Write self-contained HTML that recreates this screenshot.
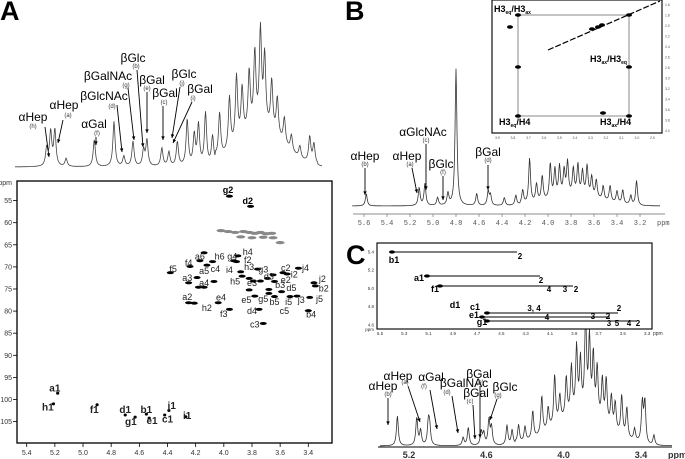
<!DOCTYPE html>
<html><head><meta charset="utf-8">
<style>
html,body{margin:0;padding:0;background:#fff;}
svg{display:block;font-family:"Liberation Sans",sans-serif;}
</style></head>
<body>
<svg id="fig" width="685" height="459" viewBox="0 0 685 459" xmlns="http://www.w3.org/2000/svg">
<text x="0" y="20" font-size="27" font-weight="bold">A</text>
<text x="345" y="20" font-size="27" font-weight="bold">B</text>
<text x="346" y="264" font-size="27" font-weight="bold">C</text>
<g id="gA"></g>
<g id="gB"></g>
<g id="gC"></g>
</svg>
<script>
// ---------- DATA ----------
const specAppm = [5.258,5.23,5.20,5.12,4.92,4.78,4.71,4.645,4.57,4.546,4.44,4.39,4.33,4.26,4.21,4.18,4.13,4.08,4.03,3.96,3.91,3.87,3.82,3.78,3.74,3.71,3.66,3.62,3.57,3.52,3.46,3.39,3.36];
const specAh   = [18,34,36,8,27,45,10,25,16,26,18,14,24,46,30,40,52,28,44,52,66,48,58,74,95,70,50,38,26,16,12,26,20];
const hsqcH = [5.18,5.21,4.90,4.70,4.63,4.55,4.53,4.42,4.39,4.27,3.96,3.81,4.14,4.17,4.08,4.12,4.24,4.38,4.19,4.25,4.18,4.14,4.07,4.25,4.21,4.04,3.96,3.90,3.93,3.91,3.88,3.87,3.82,3.79,3.74,3.69,3.65,3.64,3.58,3.55,3.47,3.68,3.68,3.64,3.59,3.53,3.48,3.39,3.75,3.78,3.72,3.36,3.35,3.40,3.76,3.82];
const hsqcC = [98.6,101,101.2,103.5,104,103.3,104.2,103.5,102.5,103.9,54,56.3,66.8,68.6,68.8,69.6,69.9,71.3,72.4,73.6,74.6,74.6,73.3,78.1,78.2,78.1,79.6,67.5,68.6,68.8,71.1,72.1,72.6,73.2,73.2,72.6,71.8,73.3,71.3,71.6,70.3,75.1,76.0,76.7,75.6,76.7,76.6,76.9,79.6,76.6,82.8,73.6,74.3,79.9,70.5,75.2];
const greyH = [4.02,3.97,3.92,3.86,3.82,3.78,3.74,3.70,3.66,3.88,3.80,3.72,3.65,3.60];
const greyC = [61.8,62,62.2,62,62.2,62.4,62.2,62.5,62.4,63.2,63.4,63.3,63.4,64.5];
const hsqcLabels = ["a6","h6","g4","h4","f2","f4","c4","a5","i4","h3","g3","c2","j4","f5","d3","i2","e2","a3","a4","h5","e3","b3","d5","j2","b2","a2","e4","h2","e5","g5","b5","i5","j3","j5","c5","f3","d4","b4","c3","a1","h1","f1","d1","b1","g1","e1","c1","j1","i1"];
const labH = [4.17,4.03,3.94,3.83,3.83,4.25,4.06,4.14,3.96,3.82,3.72,3.56,3.42,4.36,3.68,3.50,3.56,4.26,4.14,3.92,3.80,3.60,3.52,3.30,3.29,4.26,4.02,4.12,3.84,3.72,3.64,3.54,3.45,3.32,3.57,4.00,3.80,3.38,3.78,5.20,5.25,4.92,4.70,4.55,4.66,4.51,4.40,4.37,4.26];
const labC = [68.3,68.3,68.3,67.3,69.1,69.8,71.1,71.6,71.4,70.7,71.3,70.9,70.9,71.1,72.9,72.4,73.6,73.2,74.3,74.0,74.3,74.8,75.4,73.4,75.6,77.5,77.6,80.0,78.2,77.9,78.6,78.6,78.2,77.9,80.6,81.3,80.6,81.4,83.7,98.2,102.5,103.0,103.0,103.0,105.8,105.5,105.2,102.2,104.4];
const hsqcXTicks = [5.4,5.2,5.0,4.8,4.6,4.4,4.2,4.0,3.8,3.6,3.4];
const hsqcYTicks = [55,60,65,70,75,80,85,90,95,100,105];
const specBppm = [5.58,5.12,5.07,4.96,4.87,4.80,4.62,4.52,4.50,4.38,4.28,4.22,4.16,4.10,4.05,3.98,3.94,3.90,3.86,3.83,3.78,3.74,3.70,3.66,3.62,3.58,3.52,3.46,3.40,3.35,3.28,3.23];
const specBh   = [12,18,22,8,12,137,12,14,10,8,10,14,45,18,25,35,28,30,25,33,26,30,24,30,20,18,14,16,12,14,10,25];
const specBTicks = [5.6,5.4,5.2,5.0,4.8,4.6,4.4,4.2,4.0,3.8,3.6,3.4,3.2];
const specCppm = [5.29,5.14,5.11,5.05,5.04,4.78,4.74,4.64,4.62,4.58,4.56,4.44,4.40,4.35,4.30,4.24,4.17,4.12,4.07,4.03,3.98,3.94,3.90,3.87,3.83,3.80,3.77,3.74,3.70,3.67,3.63,3.60,3.55,3.51,3.45,3.39,3.37,3.30];
const specCh   = [30,28,15,22,18,8,18,14,12,25,18,20,15,18,15,28,38,22,50,26,40,48,66,52,95,75,60,50,42,45,32,28,40,30,12,40,42,10];
const specCTicks = [5.2,4.6,4.0,3.4];
const insetCTicks = [5.5,5.3,5.1,4.9,4.7,4.5,4.3,4.1,3.9,3.7,3.5,3.3];
const insetCYTicks = [5.4,5.2,5.0,4.8,4.6];

// ---------- HELPERS ----------
const NS="http://www.w3.org/2000/svg";
function mk(parent,tag,attrs,txt){const e=document.createElementNS(NS,tag);for(const k in attrs)e.setAttribute(k,attrs[k]);if(txt!==undefined)e.textContent=txt;parent.appendChild(e);return e;}
function spectrumPath(xf,x0,x1,base,ppms,hs,w,hump){let d="";for(let x=x0;x<=x1;x+=0.5){let y=0;for(let i=0;i<ppms.length;i++){const dx=(x-xf(ppms[i]))/w;y+=hs[i]/(1+dx*dx);}if(hump)y+=hump(x);d+=(d?"L":"M")+x.toFixed(1)+","+(base-y).toFixed(1);}return d;}
function annot(g,name,label,sub,tx,ty,sx,sy,ax1,ay1,ax2,ay2,fs){
  const t=mk(g,"text",{x:tx,y:ty,"font-size":fs,"text-anchor":"middle"},label);
  
  
  const s=mk(g,"text",{x:sx,y:sy,"font-size":6,"text-anchor":"middle",fill:"#333"},sub);
  
  
  const l=mk(g,"line",{x1:ax1,y1:ay1,x2:ax2,y2:ay2,stroke:"#000","stroke-width":0.9});
  
  
  const ang=Math.atan2(ay2-ay1,ax2-ax1);const a=4;
  const p=mk(g,"polygon",{points:`${ax2},${ay2} ${ax2-a*Math.cos(ang-0.45)},${ay2-a*Math.sin(ang-0.45)} ${ax2-a*Math.cos(ang+0.45)},${ay2-a*Math.sin(ang+0.45)}`,fill:"#000"});
  
  
}

// ---------- PANEL A ----------
const gA=document.getElementById("gA");
const axA=ppm=>26.7+(5.4-ppm)*140.8;
const ayA=c=>222.7+(c-60)*4.42;
const pA=mk(gA,"path",{d:spectrumPath(axA,15,322,167,specAppm,specAh,1.3,x=>x>215&&x<318?38*Math.exp(-Math.pow((x-260)/32,2)):0),fill:"none",stroke:"#444","stroke-width":0.8});


const fsA=12;
annot(gA,"ahep-h","αHep","(h)",33,121,33,128,45,127,49,157,fsA);
annot(gA,"ahep-a","αHep","(a)",64,109,68,117,63,120,58,143,fsA);
annot(gA,"agal-f","αGal","(f)",94,128,97,135,96,137,96,145,fsA);
annot(gA,"bglcnac-d","βGlcNAc","(d)",104,100,112,108,117,105,122,152,fsA);
annot(gA,"bgalnac-g","βGalNAc","(g)",108,80,126,87,128,88,134,140,fsA);
annot(gA,"bglc-b","βGlc","(b)",133,62,136,68,137,70,143,147,fsA);
annot(gA,"bgal-e","βGal","(e)",152,84,147,90,147,92,147,133,fsA);
annot(gA,"bgal-c","βGal","(c)",165,97,164,104,163,106,163,140,fsA);
annot(gA,"bglc-j","βGlc","(j)",184,78,182,85,180,87,172,138,fsA);
annot(gA,"bgal-i","βGal","(i)",200,93,193,100,192,102,173,143,fsA);
const boxA=mk(gA,"rect",{x:17,y:181,width:315,height:262,fill:"none",stroke:"#111","stroke-width":1.4});


hsqcXTicks.forEach(t=>{const x=axA(t);
  const l=mk(gA,"line",{x1:x,y1:443,x2:x,y2:447,stroke:"#000","stroke-width":0.8});
  
  
  const tx=mk(gA,"text",{x:x,y:455,"font-size":7,"text-anchor":"middle",fill:"#333"},t.toFixed(1));
  
  });
hsqcYTicks.forEach(t=>{const y=ayA(t);
  const l=mk(gA,"line",{x1:13,y1:y,x2:17,y2:y,stroke:"#000","stroke-width":0.8});
  
  
  const tx=mk(gA,"text",{x:12,y:y+2.5,"font-size":7,"text-anchor":"end",fill:"#333"},String(t));
  
  });
const ppmA=mk(gA,"text",{x:12,y:185,"font-size":7,"text-anchor":"end",fill:"#333"},"ppm");


greyH.forEach((h,i)=>{const e=mk(gA,"ellipse",{cx:axA(h),cy:ayA(greyC[i]),rx:4.5,ry:1.6,fill:"#888"});
  
  });
hsqcH.forEach((h,i)=>{const e=mk(gA,"ellipse",{cx:axA(h),cy:ayA(hsqcC[i]),rx:i<10?1.6:3.5,ry:1.5,fill:"#000"});
  
  });
hsqcLabels.forEach((s,i)=>{const big=i>=39;const t=mk(gA,"text",{x:axA(labH[i]),y:ayA(labC[i]),"font-size":big?10:9,"font-weight":big?"bold":"normal","text-anchor":"middle",fill:"#222"},s);
  
  });
const g2=mk(gA,"text",{x:axA(3.97),y:ayA(53.3),"font-size":9,"font-weight":"bold","text-anchor":"middle"},"g2");


const d2=mk(gA,"text",{x:axA(3.83),y:ayA(55.8),"font-size":9,"font-weight":"bold","text-anchor":"middle"},"d2");



// ---------- PANEL B ----------
const gB=document.getElementById("gB");
const axB=ppm=>364+(5.6-ppm)*115;
const pB=mk(gB,"path",{d:spectrumPath(axB,352,660,206,specBppm,specBh,1.1,x=>x>520&&x<630?10*Math.exp(-Math.pow((x-575)/35,2)):0),fill:"none",stroke:"#333","stroke-width":0.8});


const axLB=mk(gB,"line",{x1:353,y1:214,x2:665,y2:214,stroke:"#666","stroke-width":0.8});


specBTicks.forEach(t=>{const x=axB(t);
  const l=mk(gB,"line",{x1:x,y1:214,x2:x,y2:217,stroke:"#666","stroke-width":0.6});
  
  
  const tx=mk(gB,"text",{x:x,y:225,"font-size":7,"text-anchor":"middle",fill:"#555","font-family":"Liberation Mono"},t.toFixed(1));
  
  });
const bppm=mk(gB,"text",{x:657,y:225,"font-size":7,fill:"#555","font-family":"Liberation Mono"},"ppm");


annot(gB,"b-ahep-b","αHep","(b)",365,160,365,166,365,168,365,195,12);
annot(gB,"b-ahep-a","αHep","(a)",407,160,410,166,412,168,417,193,12);
annot(gB,"b-aglcnac-c","αGlcNAc","(c)",423,136,426,142,426,144,426,190,12);
annot(gB,"b-bglc-f","βGlc","(f)",441,168,443,174,443,176,443,200,12);
annot(gB,"b-bgal-d","βGal","(d)",488,156,488,162,488,165,488,190,12);
const inB=mk(gB,"rect",{x:492,y:0,width:170,height:133,fill:"#fff",stroke:"#111","stroke-width":1.2});


const rB=mk(gB,"rect",{x:518,y:15,width:111,height:101,fill:"none",stroke:"#888","stroke-width":1});


const dB=mk(gB,"line",{x1:548,y1:50,x2:660,y2:1,stroke:"#000","stroke-width":1.2,"stroke-dasharray":"6,2"});


[[518,15],[629,15],[518,67],[629,67],[518,116],[629,116],[598,27],[592,29],[602,25],[510,27],[603,113]].forEach(p=>{const e=mk(gB,"ellipse",{cx:p[0],cy:p[1],rx:3,ry:1.8,fill:"#000"});
  
  });
function subLabel(g,name,x,y,a,s1,b,s2){const t=mk(g,"text",{x:x,y:y,"font-size":9,"font-weight":"bold"});
  
  
  mk(t,"tspan",{},a);mk(t,"tspan",{"font-size":5,dy:2},s1);mk(t,"tspan",{dy:-2},b);if(s2)mk(t,"tspan",{"font-size":5,dy:2},s2);}
subLabel(gB,"label-h3eq-h3ax",494,12,"H3","eq","/H3","ax");
subLabel(gB,"label-h3ax-h3eq",590,62,"H3","ax","/H3","eq");
subLabel(gB,"label-h3eq-h4",499,125,"H3","eq","/H4","");
subLabel(gB,"label-h3ax-h4",600,125,"H3","ax","/H4","");
for(let i=0;i<11;i++){const x=495+i*15.5;const tx=mk(gB,"text",{x:x,y:139,"font-size":3.5,fill:"#555"},(3.9-i*0.1).toFixed(1));
  
  }
for(let i=0;i<13;i++){const y=6+i*10.5;const tx=mk(gB,"text",{x:665,y:y,"font-size":3.5,fill:"#555"},(1.6+i*0.2).toFixed(1));
  
  }

// ---------- PANEL C ----------
const gC=document.getElementById("gC");
const axC=ppm=>409+(5.2-ppm)*128.9;
const pC=mk(gC,"path",{d:spectrumPath(axC,380,672,446,specCppm,specCh,1.1,x=>x>515&&x<645?30*Math.exp(-Math.pow((x-580)/38,2)):0),fill:"none",stroke:"#333","stroke-width":0.8});


const axLC=mk(gC,"line",{x1:378,y1:447,x2:672,y2:447,stroke:"#000","stroke-width":1});


specCTicks.forEach(t=>{const x=axC(t);
  const tx=mk(gC,"text",{x:x,y:458,"font-size":9,"font-weight":"bold","text-anchor":"middle",fill:"#333"},t.toFixed(1));
  
  });
const cppm=mk(gC,"text",{x:668,y:458,"font-size":9,"font-weight":"bold",fill:"#333"},"ppm");


annot(gC,"c-ahep-b","αHep","(b)",383,390,388,396,388,398,388,425,12);
annot(gC,"c-ahep-a","αHep","(a)",398,380,405,384,408,386,420,422,12);
annot(gC,"c-agal-f","αGal","(f)",431,381,424,388,430,390,437,429,12);
annot(gC,"c-bgalnac-d","βGalNAc","(d)",464,387,447,394,452,396,458,433,12);
annot(gC,"c-bgal-c","βGal","(c)",476,397,470,403,473,405,475,439,12);
annot(gC,"c-bgal-e","βGal","(e)",479,378,480,384,480,386,480,438,12);
annot(gC,"c-bglc-g","βGlc","(g)",505,391,498,397,497,399,490,420,12);
const inC=mk(gC,"rect",{x:377,y:243,width:275,height:86,fill:"#fff",stroke:"#111","stroke-width":1.2});


insetCTicks.forEach((t,i)=>{const x=380+(5.5-t)*121.4;
  const tx=mk(gC,"text",{x:x,y:335,"font-size":4.5,"text-anchor":"middle",fill:"#333"},t.toFixed(1));
  
  });
const cip=mk(gC,"text",{x:653,y:335,"font-size":5,fill:"#333"},"ppm");


insetCYTicks.forEach(t=>{const y=252+(5.4-t)*91;
  const tx=mk(gC,"text",{x:374,y:y+1.5,"font-size":4.5,"text-anchor":"end",fill:"#333"},t.toFixed(1));
  
  });
const cyp=mk(gC,"text",{x:374,y:331,"font-size":4.5,"text-anchor":"end",fill:"#333"},"ppm");


[[392,517,252],[427,540,276],[440,573,286],[487,618,313],[482,610,317],[487,637,321]].forEach(r=>{
  const l=mk(gC,"line",{x1:r[0],y1:r[2],x2:r[1],y2:r[2],stroke:"#000","stroke-width":0.9});
  
  
  const e=mk(gC,"ellipse",{cx:r[0],cy:r[2],rx:3,ry:1.6,fill:"#000"});
  
  });
[["b1",394,263],["2",520,259],["a1",419,281],["2",541,283],["f1",435,292],["4",549,292],["3",565,292],["2",576,292],["d1",455,308],["c1",475,310],["3, 4",534,311],["2",619,311],["e1",474,318],["4",547,320],["3",593,319],["2",608,319],["g1",482,325],["3",609,326],["5",617,326],["4",629,326],["2",638,326]].forEach(l=>{
  const t=mk(gC,"text",{x:l[1],y:l[2],"font-size":l[0].length>1&&l[0]!=="3, 4"?9:8,"font-weight":"bold","text-anchor":"middle"},l[0]);
  
  });
</script>
</body></html>
